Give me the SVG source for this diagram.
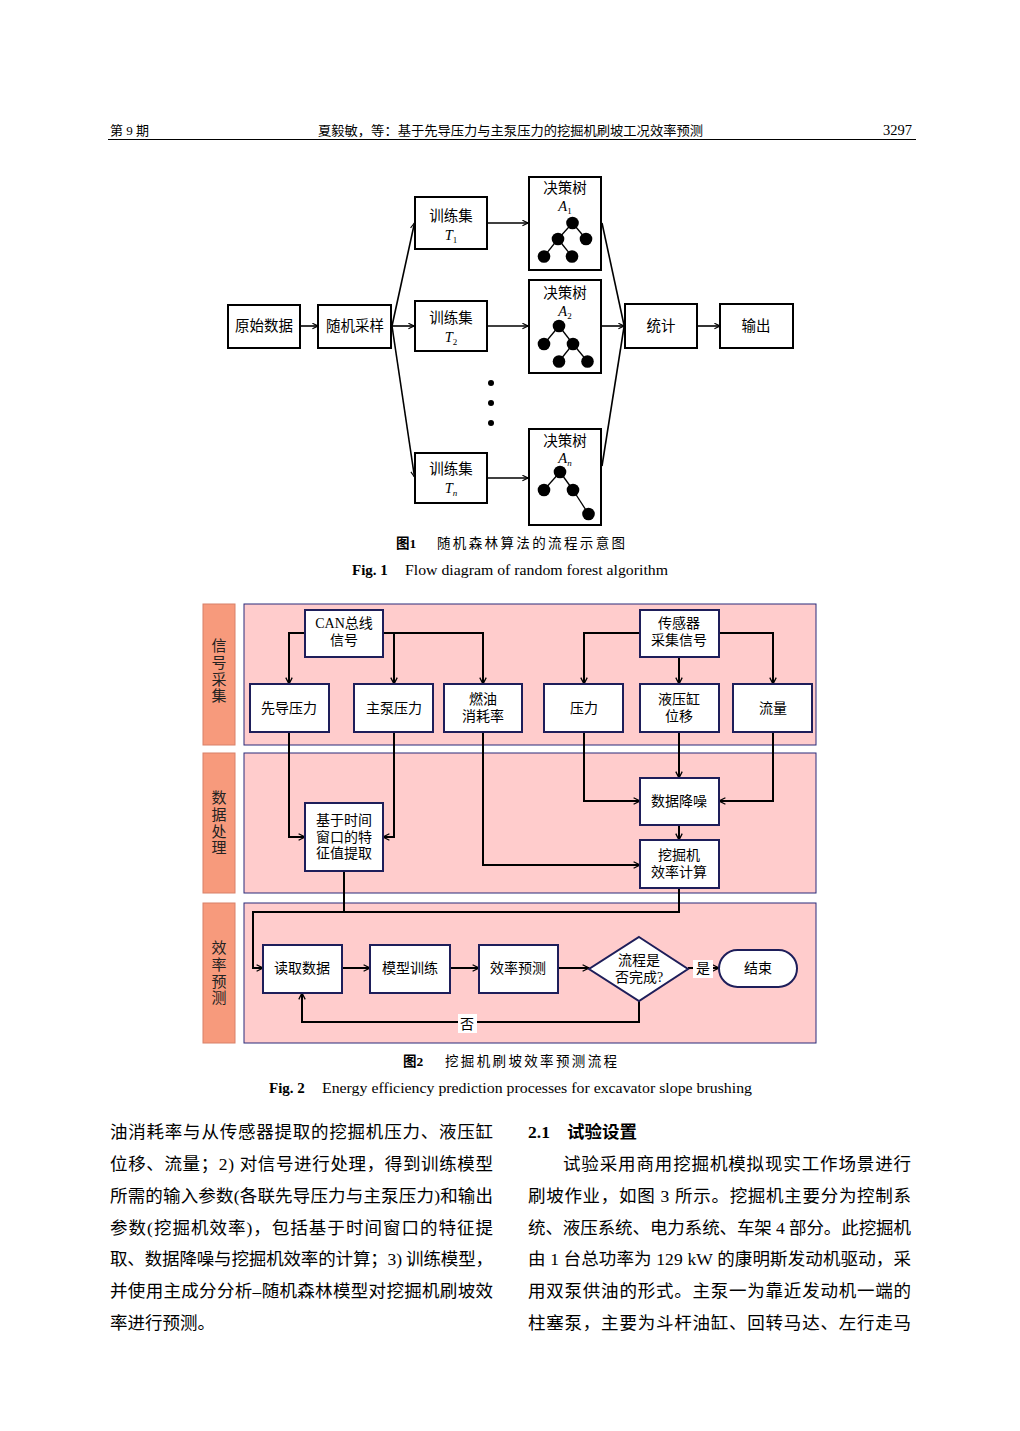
<svg xmlns="http://www.w3.org/2000/svg" width="1020" height="1431" viewBox="0 0 1020 1431">
<style>
text{font-family:"Liberation Serif","Noto Sans CJK SC",serif;fill:#000}
.hd{font-size:13px}
.b1{fill:#fff;stroke:#000;stroke-width:2}
.t1{font-size:14.5px;text-anchor:middle}
.it{font-style:italic}
.sub{font-size:9px}
.c1{fill:none;stroke:#000;stroke-width:1.6}
.nd{fill:#000}
.br{stroke:#000;stroke-width:1.3}
.lab{fill:#F79A7C;stroke:#D88068;stroke-width:1}
.pan{fill:#FFCCCC;stroke:#2B2B7A;stroke-width:1}
.b2{fill:#fff;stroke:#1E1E5A;stroke-width:2}
.t2{font-size:14px;text-anchor:middle}
.vl{font-size:15px;text-anchor:middle;fill:#222}
.c2{fill:none;stroke:#000;stroke-width:2}
.cap{font-size:13.5px}
.body{font-size:17.5px}
</style>
<defs>
<marker id="ar" viewBox="0 0 10 10" refX="9" refY="5" markerWidth="7" markerHeight="7" markerUnits="userSpaceOnUse" orient="auto">
<path d="M1,1 L9,5 L1,9" fill="none" stroke="#000" stroke-width="1.6"/>
</marker>
<marker id="ar2" viewBox="0 0 10 10" refX="9" refY="5" markerWidth="8" markerHeight="8" markerUnits="userSpaceOnUse" orient="auto">
<path d="M1,1 L9,5 L1,9" fill="none" stroke="#000" stroke-width="1.6"/>
</marker>
</defs>

<!-- header -->
<g id="header">
<text class="hd" x="110" y="135">第 9 期</text>
<text class="hd" x="318" y="135" textLength="385" lengthAdjust="spacingAndGlyphs">夏毅敏，等：基于先导压力与主泵压力的挖掘机刷坡工况效率预测</text>
<text x="912" y="135" font-size="14.5" text-anchor="end">3297</text>
<line x1="108" y1="139.5" x2="916" y2="139.5" stroke="#000" stroke-width="1"/>
</g>

<!-- Figure 1 -->
<g id="fig1-connectors">
<path class="c1" d="M300,326 L318,326" marker-end="url(#ar)"/>
<path class="c1" d="M392,326 L414,326" marker-end="url(#ar)"/>
<path class="c1" d="M392,326 L414.5,223" marker-end="url(#ar)"/>
<path class="c1" d="M392,326 L414.5,477" marker-end="url(#ar)"/>
<path class="c1" d="M487,223 L528,223" marker-end="url(#ar)"/>
<path class="c1" d="M487,326 L528,326" marker-end="url(#ar)"/>
<path class="c1" d="M487,478 L528,478" marker-end="url(#ar)"/>
<path class="c1" d="M602,223 L624,325"/>
<path class="c1" d="M602,466 L624,327"/>
<path class="c1" d="M602,326 L624,326" marker-end="url(#ar)"/>
<path class="c1" d="M698,326 L720,326" marker-end="url(#ar)"/>
</g>
<g id="f1-raw"><rect class="b1" x="228" y="305" width="72" height="43"/><text class="t1" x="264" y="331">原始数据</text></g>
<g id="f1-sample"><rect class="b1" x="318" y="305" width="73" height="43"/><text class="t1" x="355" y="331">随机采样</text></g>
<g id="f1-T1"><rect class="b1" x="415" y="197" width="72" height="52"/><text class="t1" x="451" y="221">训练集</text><text class="t1" x="451" y="240"><tspan class="it">T</tspan><tspan class="sub" dy="3">1</tspan></text></g>
<g id="f1-T2"><rect class="b1" x="415" y="301" width="72" height="50"/><text class="t1" x="451" y="323">训练集</text><text class="t1" x="451" y="342"><tspan class="it">T</tspan><tspan class="sub" dy="3">2</tspan></text></g>
<g id="f1-Tn"><rect class="b1" x="415" y="453" width="72" height="50"/><text class="t1" x="451" y="474">训练集</text><text class="t1" x="451" y="493"><tspan class="it">T</tspan><tspan class="sub it" dy="3">n</tspan></text></g>
<g id="f1-A1"><rect class="b1" x="529" y="177" width="72" height="93"/><text class="t1" x="565" y="193">决策树</text><text class="t1" x="565" y="211"><tspan class="it">A</tspan><tspan class="sub" dy="3">1</tspan></text>
<line class="br" x1="572.5" y1="223" x2="558" y2="239"/><line class="br" x1="572.5" y1="223" x2="586" y2="239"/><line class="br" x1="558" y1="239" x2="544" y2="256.5"/><line class="br" x1="558" y1="239" x2="572" y2="256.5"/>
<circle class="nd" cx="572.5" cy="223" r="6.3"/><circle class="nd" cx="558" cy="239" r="6.3"/><circle class="nd" cx="586" cy="239" r="6.3"/><circle class="nd" cx="544" cy="256.5" r="6.3"/><circle class="nd" cx="572" cy="256.5" r="6.3"/></g>
<g id="f1-A2"><rect class="b1" x="529" y="280" width="72" height="93"/><text class="t1" x="565" y="298">决策树</text><text class="t1" x="565" y="316"><tspan class="it">A</tspan><tspan class="sub" dy="3">2</tspan></text>
<line class="br" x1="559" y1="326" x2="544" y2="344"/><line class="br" x1="559" y1="326" x2="573" y2="344"/><line class="br" x1="573" y1="344" x2="559" y2="361.5"/><line class="br" x1="573" y1="344" x2="587.5" y2="361.5"/>
<circle class="nd" cx="559" cy="326" r="6.3"/><circle class="nd" cx="544" cy="344" r="6.3"/><circle class="nd" cx="573" cy="344" r="6.3"/><circle class="nd" cx="559" cy="361.5" r="6.3"/><circle class="nd" cx="587.5" cy="361.5" r="6.3"/></g>
<g id="f1-An"><rect class="b1" x="529" y="429" width="72" height="96"/><text class="t1" x="565" y="446">决策树</text><text class="t1" x="565" y="463"><tspan class="it">A</tspan><tspan class="sub it" dy="3">n</tspan></text>
<line class="br" x1="560" y1="472" x2="544" y2="490"/><line class="br" x1="560" y1="472" x2="573" y2="490"/><line class="br" x1="573" y1="490" x2="588.5" y2="514"/>
<circle class="nd" cx="560" cy="472" r="6.3"/><circle class="nd" cx="544" cy="490" r="6.3"/><circle class="nd" cx="573" cy="490" r="6.3"/><circle class="nd" cx="588.5" cy="514" r="6.3"/></g>
<g id="f1-dots"><circle class="nd" cx="491" cy="383" r="3"/><circle class="nd" cx="491" cy="403" r="3"/><circle class="nd" cx="491" cy="423" r="3"/></g>
<g id="f1-stat"><rect class="b1" x="625" y="304" width="72" height="44"/><text class="t1" x="661" y="331">统计</text></g>
<g id="f1-out"><rect class="b1" x="720" y="304" width="73" height="44"/><text class="t1" x="756" y="331">输出</text></g>
<g id="fig1-caption">
<text class="cap" x="396" y="548" font-weight="bold">图1</text>
<text class="cap" x="437" y="548" textLength="188" lengthAdjust="spacing">随机森林算法的流程示意图</text>
<text x="352" y="575" font-size="15" font-weight="bold">Fig. 1</text>
<text x="405" y="575" font-size="15" textLength="263" lengthAdjust="spacingAndGlyphs">Flow diagram of random forest algorithm</text>
</g>

<!-- Figure 2 -->
<g id="lanes">
<rect class="lab" x="203" y="604" width="32" height="141"/>
<rect class="pan" x="244" y="604" width="572" height="141"/>
<rect class="lab" x="203" y="753" width="32" height="140"/>
<rect class="pan" x="244" y="753" width="572" height="140"/>
<rect class="lab" x="203" y="903" width="32" height="140"/>
<rect class="pan" x="244" y="903" width="572" height="140"/>
<text class="vl" x="219" y="651">信</text><text class="vl" x="219" y="668">号</text><text class="vl" x="219" y="685">采</text><text class="vl" x="219" y="701">集</text>
<text class="vl" x="219" y="803">数</text><text class="vl" x="219" y="820">据</text><text class="vl" x="219" y="837">处</text><text class="vl" x="219" y="853">理</text>
<text class="vl" x="219" y="953">效</text><text class="vl" x="219" y="970">率</text><text class="vl" x="219" y="987">预</text><text class="vl" x="219" y="1003">测</text>
</g>
<g id="fig2-connectors">
<path class="c2" d="M305,633 H289 V684" marker-end="url(#ar2)"/>
<path class="c2" d="M383,633 H483 V684" marker-end="url(#ar2)"/>
<path class="c2" d="M394,633 V684" marker-end="url(#ar2)"/>
<path class="c2" d="M640,633 H584 V684" marker-end="url(#ar2)"/>
<path class="c2" d="M719,633 H773 V684" marker-end="url(#ar2)"/>
<path class="c2" d="M679,657 V684" marker-end="url(#ar2)"/>
<path class="c2" d="M289,732 V837 H305" marker-end="url(#ar2)"/>
<path class="c2" d="M394,732 V837 H383" marker-end="url(#ar2)"/>
<path class="c2" d="M483,732 V865 H640" marker-end="url(#ar2)"/>
<path class="c2" d="M584,732 V801 H640" marker-end="url(#ar2)"/>
<path class="c2" d="M679,732 V778" marker-end="url(#ar2)"/>
<path class="c2" d="M773,732 V801 H719" marker-end="url(#ar2)"/>
<path class="c2" d="M679,825 V840" marker-end="url(#ar2)"/>
<path class="c2" d="M344,871 V912"/>
<path class="c2" d="M679,888 V912 H253 V968 H263" marker-end="url(#ar2)"/>
<path class="c2" d="M342,968 H370" marker-end="url(#ar2)"/>
<path class="c2" d="M450,968 H479" marker-end="url(#ar2)"/>
<path class="c2" d="M558,968 H589" marker-end="url(#ar2)"/>
<path class="c2" d="M688,968 H719" marker-end="url(#ar2)"/>
<path class="c2" d="M639,1001 V1022 H302 V993" marker-end="url(#ar2)"/>
<rect x="693" y="960" width="20" height="18" fill="#fff"/>
<text class="t2" x="703" y="973">是</text>
<rect x="458" y="1014" width="19" height="19" fill="#fff"/>
<text class="t2" x="467" y="1029">否</text>
</g>
<g id="f2-can"><rect class="b2" x="305" y="610" width="78" height="47"/><text class="t2" x="344" y="628">CAN总线</text><text class="t2" x="344" y="645">信号</text></g>
<g id="f2-sensor"><rect class="b2" x="640" y="610" width="79" height="47"/><text class="t2" x="679" y="628">传感器</text><text class="t2" x="679" y="645">采集信号</text></g>
<g id="f2-pilot"><rect class="b2" x="250" y="684" width="79" height="48"/><text class="t2" x="289" y="713">先导压力</text></g>
<g id="f2-main"><rect class="b2" x="354" y="684" width="79" height="48"/><text class="t2" x="394" y="713">主泵压力</text></g>
<g id="f2-fuel"><rect class="b2" x="444" y="684" width="78" height="48"/><text class="t2" x="483" y="704">燃油</text><text class="t2" x="483" y="721">消耗率</text></g>
<g id="f2-press"><rect class="b2" x="544" y="684" width="79" height="48"/><text class="t2" x="584" y="713">压力</text></g>
<g id="f2-cyl"><rect class="b2" x="640" y="684" width="79" height="48"/><text class="t2" x="679" y="704">液压缸</text><text class="t2" x="679" y="721">位移</text></g>
<g id="f2-flow"><rect class="b2" x="733" y="684" width="79" height="48"/><text class="t2" x="773" y="713">流量</text></g>
<g id="f2-feat"><rect class="b2" x="305" y="803" width="78" height="68"/><text class="t2" x="344" y="825">基于时间</text><text class="t2" x="344" y="842">窗口的特</text><text class="t2" x="344" y="858">征值提取</text></g>
<g id="f2-denoise"><rect class="b2" x="640" y="778" width="79" height="47"/><text class="t2" x="679" y="806">数据降噪</text></g>
<g id="f2-eff"><rect class="b2" x="640" y="840" width="79" height="48"/><text class="t2" x="679" y="860">挖掘机</text><text class="t2" x="679" y="877">效率计算</text></g>
<g id="f2-read"><rect class="b2" x="263" y="945" width="79" height="48"/><text class="t2" x="302" y="973">读取数据</text></g>
<g id="f2-train"><rect class="b2" x="370" y="945" width="80" height="48"/><text class="t2" x="410" y="973">模型训练</text></g>
<g id="f2-pred"><rect class="b2" x="479" y="945" width="79" height="48"/><text class="t2" x="518" y="973">效率预测</text></g>
<g id="f2-dec"><polygon class="b2" points="639,937 688,969 639,1001 589,969"/><text class="t2" x="639" y="965">流程是</text><text class="t2" x="639" y="982">否完成?</text></g>
<g id="f2-end"><rect class="b2" x="719" y="950" width="78" height="37" rx="18.5"/><text class="t2" x="758" y="973">结束</text></g>
<g id="fig2-caption">
<text class="cap" x="403" y="1066" font-weight="bold">图2</text>
<text class="cap" x="445" y="1066" textLength="172" lengthAdjust="spacing">挖掘机刷坡效率预测流程</text>
<text x="269" y="1093" font-size="15" font-weight="bold">Fig. 2</text>
<text x="322" y="1093" font-size="15" textLength="430" lengthAdjust="spacingAndGlyphs">Energy efficiency prediction processes for excavator slope brushing</text>
</g>

<!-- body text -->
<g id="body-left">
<text class="body" x="110" y="1138" textLength="383" lengthAdjust="spacing">油消耗率与从传感器提取的挖掘机压力、液压缸</text>
<text class="body" x="110" y="1170" textLength="383" lengthAdjust="spacing">位移、流量；2) 对信号进行处理，得到训练模型</text>
<text class="body" x="110" y="1202" textLength="383" lengthAdjust="spacing">所需的输入参数(各联先导压力与主泵压力)和输出</text>
<text class="body" x="110" y="1234" textLength="383" lengthAdjust="spacing">参数(挖掘机效率)，包括基于时间窗口的特征提</text>
<text class="body" x="110" y="1265" textLength="383" lengthAdjust="spacing">取、数据降噪与挖掘机效率的计算；3) 训练模型，</text>
<text class="body" x="110" y="1297" textLength="383" lengthAdjust="spacing">并使用主成分分析–随机森林模型对挖掘机刷坡效</text>
<text class="body" x="110" y="1329">率进行预测。</text>
</g>
<g id="body-right">
<text class="body" x="528" y="1138" font-weight="bold">2.1</text>
<text class="body" x="567" y="1138" font-weight="bold">试验设置</text>
<text class="body" x="563" y="1170" textLength="348" lengthAdjust="spacing">试验采用商用挖掘机模拟现实工作场景进行</text>
<text class="body" x="528" y="1202" textLength="383" lengthAdjust="spacing">刷坡作业，如图 3 所示。挖掘机主要分为控制系</text>
<text class="body" x="528" y="1234" textLength="383" lengthAdjust="spacing">统、液压系统、电力系统、车架 4 部分。此挖掘机</text>
<text class="body" x="528" y="1265" textLength="383" lengthAdjust="spacing">由 1 台总功率为 129 kW 的康明斯发动机驱动，采</text>
<text class="body" x="528" y="1297" textLength="383" lengthAdjust="spacing">用双泵供油的形式。主泵一为靠近发动机一端的</text>
<text class="body" x="528" y="1329" textLength="383" lengthAdjust="spacing">柱塞泵，主要为斗杆油缸、回转马达、左行走马</text>
</g>
</svg>
